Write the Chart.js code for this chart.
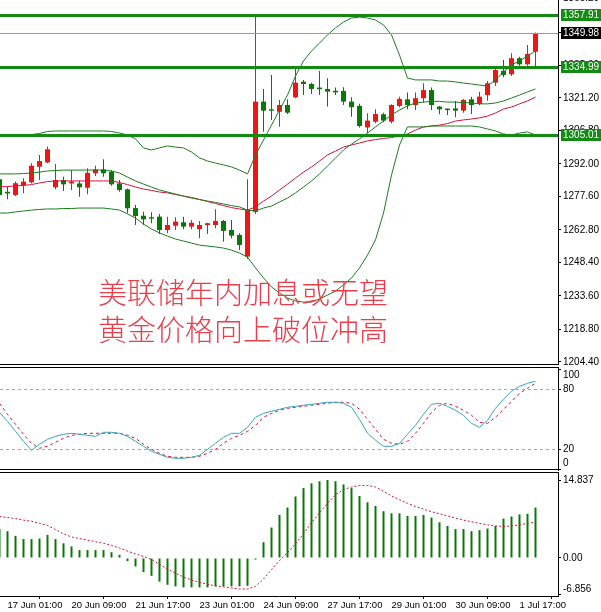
<!DOCTYPE html>
<html><head><meta charset="utf-8">
<script src="https://cdn.jsdelivr.net/npm/chart.js@4.4.0/dist/chart.umd.min.js"></script>
<style>
html,body{margin:0;padding:0;background:#fff;}
#wrap{position:relative;width:601px;height:612px;overflow:hidden;background:#fff;}
canvas{position:absolute;left:0;}
#note{position:absolute;left:98px;top:273px;font-family:"Noto Sans CJK SC";font-size:29px;line-height:37px;color:#e8404a;font-weight:300;white-space:nowrap;}
</style></head><body>
<div id="wrap">
<canvas id="main" width="601" height="365" style="top:0"></canvas>
<canvas id="stoch" width="601" height="111" style="top:360px"></canvas>
<canvas id="macd" width="601" height="140" style="top:472px"></canvas>
<div id="note">美联储年内加息或无望<br>黄金价格向上破位冲高</div>
</div>
<script>
// ---- data (4H XAUUSD bars) ----
const openP = [1285.2,1279.7,1278.3,1282.7,1283.9,1290.8,1292.7,1281.7,1284.9,1283.4,
1283.4,1281.5,1287.9,1289.6,1288.6,1283.4,1280.8,1272.5,1269.1,1268.4,
1268.7,1262.8,1264.7,1266.2,1264.3,1263.2,1265.0,1265.0,1266.8,1262.8,
1260.6,1251.0,1270.8,1319.6,1316.2,1315.1,1318.1,1321.5,1328.4,1327.4,
1325.8,1325.2,1324.4,1324.3,1319.6,1317.7,1308.2,1310.7,1314.0,1310.7,
1317.7,1320.6,1318.1,1321.1,1324.7,1317.4,1316.5,1316.6,1315.6,1320.6,
1318.6,1322.5,1328.0,1333.2,1331.7,1338.8,1336.1,1341.7];
const highP = [1285.8,1282.0,1284.2,1285.7,1292.3,1296.0,1299.7,1292.0,1286.4,1289.3,
1284.6,1290.1,1291.2,1294.1,1289.3,1284.9,1281.2,1273.8,1270.9,1270.6,
1269.9,1268.7,1268.4,1268.7,1267.2,1266.8,1266.0,1272.0,1267.2,1267.2,
1261.3,1285.2,1357.9,1325.2,1331.4,1320.3,1320.6,1334.8,1329.2,1328.0,
1333.2,1329.9,1325.8,1325.9,1321.5,1318.6,1314.4,1316.2,1314.7,1318.4,
1321.8,1323.6,1323.6,1327.7,1325.8,1317.7,1316.6,1319.9,1320.8,1321.8,
1324.0,1328.7,1335.4,1338.0,1341.0,1339.5,1344.7,1350.2];
const lowP = [1277.0,1276.4,1277.8,1279.0,1283.4,1284.9,1292.3,1280.8,1280.0,1280.5,
1277.5,1278.6,1286.7,1286.4,1282.4,1279.7,1270.2,1265.0,1265.0,1265.8,
1261.0,1261.3,1262.8,1263.1,1263.1,1259.1,1261.0,1263.6,1257.6,1259.1,
1253.9,1250.0,1269.9,1306.3,1311.5,1308.5,1314.1,1321.1,1322.5,1323.0,
1322.5,1317.4,1322.5,1318.1,1312.9,1308.2,1305.6,1310.0,1310.5,1310.0,
1317.1,1316.2,1315.9,1319.1,1315.9,1314.0,1313.7,1312.7,1314.7,1314.1,
1318.0,1320.0,1326.5,1330.4,1330.9,1335.5,1335.5,1335.0];
const closeP = [1278.3,1279.0,1283.5,1284.2,1291.2,1293.3,1298.5,1284.9,1283.0,1284.2,
1281.7,1288.1,1289.6,1287.9,1283.0,1280.5,1272.4,1269.0,1267.5,1267.8,
1262.8,1265.0,1266.5,1264.3,1266.0,1265.0,1265.8,1266.8,1262.4,1260.3,
1256.2,1271.6,1319.6,1315.6,1315.6,1318.1,1314.7,1328.0,1327.4,1325.2,
1325.1,1324.0,1323.7,1319.6,1317.1,1308.8,1311.2,1314.1,1311.2,1318.1,
1320.8,1318.1,1321.1,1324.7,1318.1,1316.2,1315.9,1315.6,1320.3,1318.1,
1321.8,1327.7,1333.6,1331.4,1338.8,1336.1,1340.7,1349.98];
const bbUpper = [1304.8,1304.8,1304.8,1304.8,1305.0,1305.5,1306.4,1306.6,1306.6,1306.6,
1306.6,1306.6,1306.6,1306.6,1306.4,1305.7,1304.8,1303.1,1299.1,1298.2,
1299.1,1300.0,1299.5,1299.1,1297.3,1294.7,1293.3,1292.4,1291.6,1290.7,
1289.3,1287.6,1296.0,1302.6,1309.2,1315.9,1322.5,1330.9,1337.6,1342.0,
1345.5,1349.1,1352.2,1354.8,1356.6,1357.0,1356.6,1355.7,1353.5,1349.1,
1340.2,1330.0,1329.2,1329.2,1329.2,1328.7,1328.7,1328.3,1327.8,1327.4,
1326.9,1326.5,1329.2,1332.7,1335.8,1337.6,1339.8,1342.0];
const bbMiddle = [1287.6,1287.6,1287.6,1287.8,1288.0,1288.4,1288.9,1289.1,1289.3,1289.3,
1289.3,1289.3,1289.3,1289.3,1288.9,1288.0,1286.2,1284.5,1283.1,1281.8,
1280.5,1279.6,1278.7,1277.8,1276.9,1276.3,1275.6,1275.0,1274.3,1273.6,
1273.0,1271.6,1271.2,1272.5,1273.4,1275.2,1276.9,1279.2,1281.8,1284.5,
1287.6,1291.1,1294.6,1298.2,1300.8,1303.1,1305.7,1308.4,1311.0,1313.7,
1315.9,1317.7,1319.0,1319.4,1319.7,1319.7,1319.4,1319.4,1319.2,1319.0,
1318.6,1318.6,1319.0,1319.9,1321.2,1322.5,1323.9,1325.2];
const bbLower = [1270.3,1270.3,1270.8,1271.2,1271.6,1271.9,1272.1,1272.1,1272.3,1272.3,
1272.5,1272.5,1272.5,1272.5,1272.1,1271.6,1269.9,1268.1,1265.4,1263.2,
1261.5,1260.1,1258.8,1257.9,1257.0,1256.1,1255.7,1255.3,1254.8,1253.9,
1252.6,1250.8,1246.0,1241.6,1237.6,1234.9,1232.7,1231.4,1230.9,1230.9,
1232.3,1234.0,1235.8,1238.5,1241.6,1246.0,1251.7,1258.4,1270.3,1287.1,
1300.4,1308.4,1308.4,1308.4,1308.8,1308.8,1308.8,1308.8,1308.8,1308.8,
1308.4,1307.5,1306.6,1305.3,1304.8,1305.7,1306.2,1304.8];
const maRed = [1281.9,1282.0,1282.3,1282.5,1282.9,1283.6,1284.2,1284.5,1284.5,1284.5,
1284.5,1284.5,1284.5,1284.5,1284.5,1283.8,1282.9,1281.8,1280.9,1280.3,
1279.6,1279.2,1278.5,1277.8,1277.2,1276.3,1275.4,1274.5,1273.6,1272.7,
1272.1,1271.6,1273.0,1275.6,1277.8,1280.5,1283.1,1285.8,1288.4,1290.7,
1293.3,1296.0,1297.7,1299.5,1300.4,1301.3,1302.2,1302.8,1303.3,1303.7,
1304.4,1305.3,1307.0,1308.4,1308.8,1309.2,1309.9,1311.0,1311.5,1311.9,
1312.4,1313.2,1314.6,1316.3,1317.2,1318.6,1319.9,1321.6];
const stochK = [57,48,38,28,19,25,30,33,35,36,
35,34,33,37,37,36,33,28,23,18,
15,12,11,11,12,14,20,26,32,36,
36,42,52,56,58,60,62,63,64,65,
66,67,67,66,62,50,36,29,23,23,
26,35,44,55,65,66,63,59,54,46,
42,49,61,70,78,83,86,88];
const stochD = [66,55,45,35,26,21,23,27,31,34,
35,36,36,36,36,36,34,31,25,20,
16,13,12,12,12,13,16,20,26,31,
34,38,44,52,56,59,61,62,63,64,
65,66,67,67,66,60,50,40,30,26,
25,28,36,46,57,64,66,63,59,54,
47,46,52,60,68,76,81,86];
const macdHist = [5.5,5.1,4.2,3.6,3.6,3.7,4.4,3.6,2.8,2.2,
1.5,1.5,1.5,1.5,1.1,0.6,-0.6,-1.6,-2.7,-3.4,
-4.5,-5.1,-5.4,-5.6,-5.6,-5.6,-5.6,-5.4,-5.4,-5.4,
-5.4,-5.3,-0.3,3.0,5.8,8.2,9.6,11.7,13.3,14.2,
14.6,14.837,14.6,14.0,13.3,11.8,10.6,9.9,8.9,8.5,
8.5,8.0,8.0,8.2,7.7,6.8,6.1,5.5,5.5,5.1,
5.3,5.6,6.1,7.5,7.9,8.3,8.4,9.6];
const macdSignal = [7.9,7.7,7.5,7.2,7.0,6.6,6.2,5.4,4.6,4.0,
3.7,3.4,3.1,2.8,2.4,1.9,1.3,0.8,0.3,-0.3,
-1.2,-2.1,-2.9,-3.6,-4.2,-4.6,-5.0,-5.3,-5.5,-5.7,
-5.9,-5.9,-5.4,-4.0,-2.2,-0.5,1.0,2.7,4.6,6.7,
8.6,10.4,12.0,13.0,13.5,13.8,13.8,13.5,12.7,11.8,
11.1,10.4,9.8,9.3,8.8,8.4,8.0,7.6,7.2,6.9,
6.6,6.3,6.1,6.0,6.1,6.3,6.6,6.8];
const priceTicks = [1204.40,1218.80,1233.60,1248.40,1262.80,1277.60,1292.00,1306.80,1321.20,1335.60,1350.40,1365.20];
const stochTicks = [0,20,80,100];
const stochLevels = [80,20];
const macdTicks = [-6.856,0,14.837];
const levelLines = [1357.91,1334.99,1305.01];
const lastPrice = 1349.98;
const tickBars = [1,9,17,25,33,41,49,57,65];
const tickLabels = ['17 Jun 01:00','20 Jun 09:00','21 Jun 17:00','23 Jun 01:00','24 Jun 09:00','27 Jun 17:00','29 Jun 01:00','30 Jun 09:00','1 Jul 17:00'];

// ---- styling ----
const RED='#f01414', GRN='#087808', BAND='#1e7d1e', MA='#d2143c', LEVEL='#138a13';
const X_MIN=0.0625, X_MAX=69.8125;
const FONT='"Liberation Sans", Arial, sans-serif';
const Y_MIN=1203.06, Y_MAX=1364.56;

const idx = closeP.map((_,i)=>i);
const candleColor = idx.map(i => closeP[i] >= openP[i] ? RED : GRN);
const pts = arr => arr.map((v,i)=>({x:i,y:v}));

function xScale(show){
  const s = {
    type:'linear', min:X_MIN, max:X_MAX, offset:false, display:show,
    afterBuildTicks: sc => { sc.ticks = tickBars.map(v=>({value:v})); },
    ticks:{autoSkip:false,maxRotation:0,minRotation:0,align:'start',padding:1,color:'#000',
      font:{family:FONT,size:9.5}, callback:v=>tickLabels[tickBars.indexOf(v)]},
    grid:{drawOnChartArea:false,drawTicks:true,tickLength:3,color:'#000'},
    border:{display:true,color:'#000',width:1}
  };
  if(show) s.afterFit = sc => { sc.height=16; sc.paddingLeft=0; sc.paddingRight=0; };
  return s;
}
function yScale(min,max,ticks,cb,lh){
  return {
    position:'right', min, max,
    afterBuildTicks: sc => { sc.ticks = ticks.map(v=>({value:v})); },
    ticks:{autoSkip:false,padding:2,color:'#000',font:{family:FONT,size:10,lineHeight:lh||1.2},callback:cb},
    grid:{drawOnChartArea:false,drawTicks:true,tickLength:3,color:'#000'},
    border:{display:true,color:'#000',width:1},
    afterFit: sc => { sc.width=43; sc.paddingTop=0; sc.paddingBottom=0; }
  };
}
const framePlugin = {
  id:'frame',
  afterDraw(chart,args,opts){
    const {ctx,chartArea:a}=chart;
    ctx.save(); ctx.strokeStyle='#000'; ctx.lineWidth=1;
    if(opts.top){ctx.beginPath();ctx.moveTo(0,a.top+0.5);ctx.lineTo(a.right,a.top+0.5);ctx.stroke();}
    if(opts.bottom){ctx.beginPath();ctx.moveTo(0,a.bottom-0.5);ctx.lineTo(a.right,a.bottom-0.5);ctx.stroke();}
    ctx.restore();
  }
};
const levelsPlugin = {
  id:'levels',
  afterDatasetsDraw(chart){
    const {ctx,chartArea:a,scales:{y}}=chart;
    ctx.save();
    ctx.beginPath(); ctx.rect(a.left,a.top,a.right-a.left,a.bottom-a.top); ctx.clip();
    const lp = Math.round(y.getPixelForValue(lastPrice))+0.5;
    ctx.strokeStyle='#9a9a9a'; ctx.lineWidth=1;
    ctx.beginPath(); ctx.moveTo(a.left,lp); ctx.lineTo(a.right,lp); ctx.stroke();
    ctx.strokeStyle=LEVEL; ctx.lineWidth=3;
    levelLines.forEach(v=>{const p=Math.round(y.getPixelForValue(v))+0.5;ctx.beginPath();ctx.moveTo(a.left,p);ctx.lineTo(a.right,p);ctx.stroke();});
    ctx.restore();
  },
  afterDraw(chart){
    const {ctx,chartArea:a,scales:{y}}=chart;
    ctx.save();
    ctx.font='10px '+FONT; ctx.textBaseline='middle'; ctx.textAlign='left';
    const tag=(v,bg)=>{const p=Math.round(y.getPixelForValue(v));ctx.fillStyle=bg;ctx.fillRect(a.right+3,p-6,chart.width-(a.right+3),12);ctx.fillStyle='#fff';ctx.fillText(v.toFixed(2),a.right+5,p+0.5);};
    levelLines.forEach(v=>tag(v,LEVEL)); tag(lastPrice,'#000');
    ctx.restore();
  }
};
const stochLevelPlugin = {
  id:'stochLevels',
  beforeDatasetsDraw(chart){
    const {ctx,chartArea:a,scales:{y}}=chart;
    ctx.save(); ctx.strokeStyle='#a8a8a8'; ctx.lineWidth=1; ctx.setLineDash([3,3]);
    stochLevels.forEach(v=>{const p=Math.round(y.getPixelForValue(v))+0.5;ctx.beginPath();ctx.moveTo(a.left,p);ctx.lineTo(a.right,p);ctx.stroke();});
    ctx.restore();
  }
};
const base = {responsive:false,animation:false,devicePixelRatio:1,events:[]};
const noLegend = {legend:{display:false},tooltip:{enabled:false}};
const line = (data,color,extra)=>Object.assign({type:'line',data:pts(data),borderColor:color,borderWidth:1,pointRadius:0,tension:0,fill:false},extra||{});

new Chart(document.getElementById('main'),{
  type:'bar',
  data:{datasets:[
    line(bbUpper,BAND), line(bbMiddle,BAND), line(bbLower,BAND), line(maRed,MA),
    {type:'bar',data:idx.map(i=>({x:i,y:[openP[i],closeP[i]]})),backgroundColor:candleColor,grouped:false,maxBarThickness:5,minBarLength:1,inflateAmount:0,borderWidth:0},
    {type:'bar',data:idx.map(i=>({x:i,y:[lowP[i],highP[i]]})),backgroundColor:candleColor,grouped:false,maxBarThickness:1,inflateAmount:0,borderWidth:0}
  ]},
  options:Object.assign({},base,{layout:{padding:0},
    plugins:Object.assign({frame:{bottom:true}},noLegend),
    scales:{x:xScale(false),y:yScale(Y_MIN,Y_MAX,priceTicks,v=>v.toFixed(2))}}),
  plugins:[levelsPlugin,framePlugin]
});

new Chart(document.getElementById('stoch'),{
  type:'line',
  data:{datasets:[
    line(stochK,'#3aa2c2'),
    line(stochD,'#d2143c',{borderDash:[3,3]})
  ]},
  options:Object.assign({},base,{layout:{padding:{top:7,bottom:1,left:0,right:0}},
    plugins:Object.assign({frame:{top:true,bottom:true}},noLegend),
    scales:{x:xScale(false),y:yScale(-0.7,102.3,stochTicks,v=>v===100?['','100']:(v===0?['0','']:String(v)))}}),
  plugins:[stochLevelPlugin,framePlugin]
});

new Chart(document.getElementById('macd'),{
  type:'bar',
  data:{datasets:[
    line(macdSignal,'#d2143c',{borderDash:[2,2]}),
    {type:'bar',data:pts(macdHist),backgroundColor:GRN,grouped:false,maxBarThickness:2,inflateAmount:0,borderWidth:0}
  ]},
  options:Object.assign({},base,{layout:{padding:0},
    plugins:Object.assign({frame:{top:true}},noLegend),
    scales:{x:xScale(true),y:yScale(-7.23,16.36,macdTicks,v=>v===-6.856?['-6.856','']:(v===0?'0.00':String(v)),1.0)}}),
  plugins:[framePlugin]
});
</script>
</body></html>
